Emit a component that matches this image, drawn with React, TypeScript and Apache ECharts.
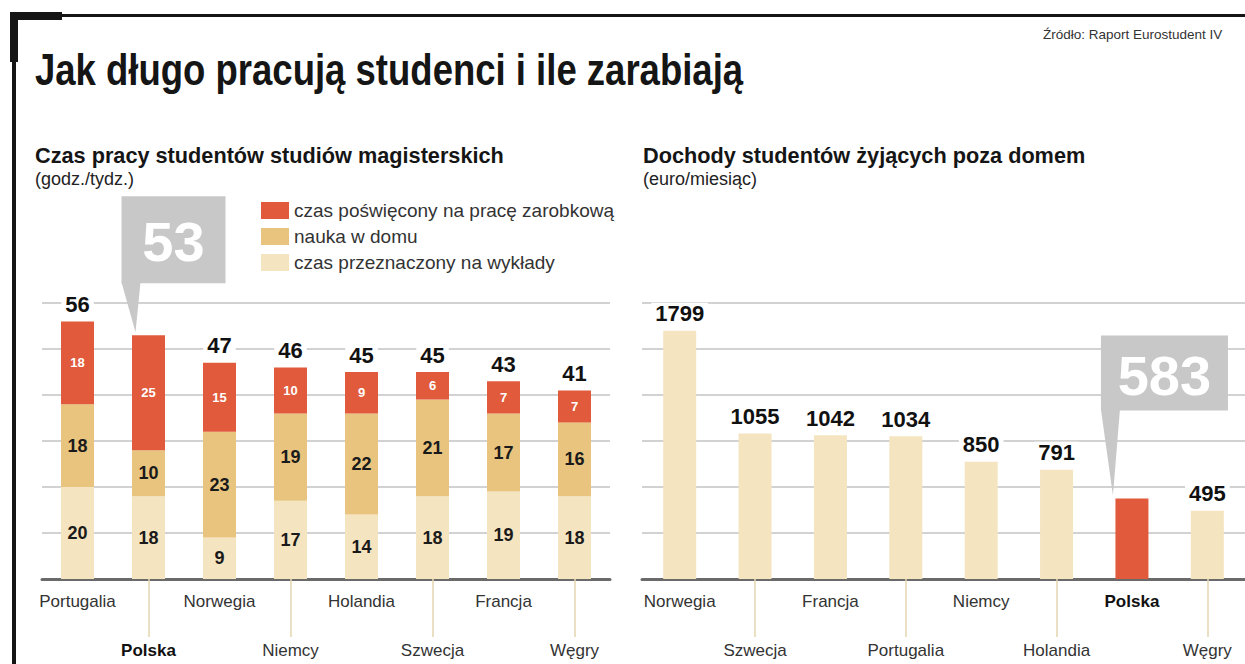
import React, { useEffect, useRef } from 'react';
import * as echarts from 'echarts';

const leftCategories = ['Portugalia', 'Polska', 'Norwegia', 'Niemcy', 'Holandia', 'Szwecja', 'Francja', 'Węgry'];
const lectures = [20, 18, 9, 17, 14, 18, 19, 18];
const homeStudy = [18, 10, 23, 19, 22, 21, 17, 16];
const paidWork = [18, 25, 15, 10, 9, 6, 7, 7];
const totals = [56, 53, 47, 46, 45, 45, 43, 41];

const rightCategories = ['Norwegia', 'Szwecja', 'Francja', 'Portugalia', 'Niemcy', 'Holandia', 'Polska', 'Węgry'];
const incomes = [1799, 1055, 1042, 1034, 850, 791, 583, 495];

const leftMax = 60;
const leftInterval = 10;
const rightMax = 2000;
const rightInterval = 2000 / 6;

const highlight = 'Polska';

const seriesNames = ['czas poświęcony na pracę zarobkową', 'nauka w domu', 'czas przeznaczony na wykłady'];

const C_RED = '#e05a3b';
const C_MID = '#e8c47e';
const C_LIGHT = '#f4e4c0';
const C_GRID = '#d2d2d2';
const C_CALLOUT = '#c8c8c8';
const SANS = '"Liberation Sans", Arial, sans-serif';

function catAxes(gridIndex: number, data: string[]) {
  const labelBase = {
    fontSize: 17,
    fontFamily: SANS,
    color: '#333',
    formatter: (v: string) => (v === highlight ? `{b|${v}}` : v),
    rich: { b: { fontSize: 17, fontFamily: SANS, fontWeight: 'bold', color: '#111' } },
  };
  return [
    {
      type: 'category',
      gridIndex,
      data,
      position: 'bottom',
      axisLine: { show: true, lineStyle: { color: '#6a6a6a', width: 3 } },
      axisTick: { show: false },
      axisLabel: { ...labelBase, interval: (i: number) => i % 2 === 0, margin: 14 },
    },
    {
      type: 'category',
      gridIndex,
      data,
      position: 'bottom',
      axisLine: { show: false },
      axisTick: {
        show: true,
        alignWithLabel: true,
        interval: (i: number) => i % 2 === 1,
        length: 58,
        lineStyle: { color: '#e6d6b0', width: 1.5 },
      },
      axisLabel: { ...labelBase, interval: (i: number) => i % 2 === 1, margin: 63 },
    },
  ];
}

function valAxis(gridIndex: number, max: number, interval: number) {
  return {
    type: 'value',
    gridIndex,
    min: 0,
    max,
    interval,
    axisLabel: { show: false },
    axisLine: { show: false },
    axisTick: { show: false },
    splitLine: { show: true, lineStyle: { color: C_GRID, width: 2 } },
  };
}

export default function App() {
  const ref = useRef<HTMLDivElement>(null);

  useEffect(() => {
    if (!ref.current) return;
    const chart = echarts.init(ref.current, undefined, { renderer: 'svg' });

    const segLabel = {
      show: true,
      position: 'inside',
      fontSize: 18,
      fontWeight: 'bold',
      fontFamily: SANS,
      color: '#1a1a1a',
    };

    const topLabel = {
      show: true,
      position: 'top',
      distance: 6,
      fontSize: 22,
      fontWeight: 'bold',
      fontFamily: SANS,
      color: '#111',
      backgroundColor: '#ffffff',
      padding: [0, 4],
    };

    const option: any = {
      animation: false,
      backgroundColor: '#ffffff',
      grid: [
        { left: 42, top: 303, width: 568, height: 276 },
        { left: 642, top: 303, width: 608, height: 276 },
      ],
      legend: {
        data: seriesNames,
        orient: 'vertical',
        left: 256,
        top: 196,
        itemWidth: 28,
        itemHeight: 17,
        itemGap: 7,
        icon: 'rect',
        selectedMode: false,
        textStyle: { fontSize: 19, fontFamily: SANS, color: '#333' },
      },
      xAxis: [...catAxes(0, leftCategories), ...catAxes(1, rightCategories)],
      yAxis: [valAxis(0, leftMax, leftInterval), valAxis(1, rightMax, rightInterval)],
      series: [
        {
          name: seriesNames[2],
          type: 'bar',
          stack: 'hours',
          xAxisIndex: 0,
          yAxisIndex: 0,
          barWidth: 33,
          itemStyle: { color: C_LIGHT },
          label: segLabel,
          data: lectures,
        },
        {
          name: seriesNames[1],
          type: 'bar',
          stack: 'hours',
          xAxisIndex: 0,
          yAxisIndex: 0,
          barWidth: 33,
          itemStyle: { color: C_MID },
          label: segLabel,
          data: homeStudy,
        },
        {
          name: seriesNames[0],
          type: 'bar',
          stack: 'hours',
          xAxisIndex: 0,
          yAxisIndex: 0,
          barWidth: 33,
          itemStyle: { color: C_RED },
          label: { ...segLabel, fontSize: 13, color: '#ffffff' },
          data: paidWork,
        },
        {
          name: 'total',
          type: 'scatter',
          xAxisIndex: 0,
          yAxisIndex: 0,
          symbolSize: 0,
          silent: true,
          itemStyle: { opacity: 1 },
          label: topLabel,
          data: totals.map((t, i) => ({
            value: t,
            label: { show: leftCategories[i] !== highlight },
          })),
        },
        {
          name: 'income',
          type: 'bar',
          xAxisIndex: 2,
          yAxisIndex: 1,
          barWidth: 33,
          label: topLabel,
          data: incomes.map((v, i) => ({
            value: v,
            itemStyle: { color: rightCategories[i] === highlight ? C_RED : C_LIGHT },
            label: { show: rightCategories[i] !== highlight },
          })),
        },
      ],
    };

    chart.setOption(option);

    const li = leftCategories.indexOf(highlight);
    const ri = rightCategories.indexOf(highlight);
    const lp = chart.convertToPixel({ xAxisIndex: 0, yAxisIndex: 0 }, [li, totals[li]]) as number[];
    const rp = chart.convertToPixel({ xAxisIndex: 2, yAxisIndex: 1 }, [ri, incomes[ri]]) as number[];

    const callout = (cx: number, top: number, dxLeft: number, w: number, gapAbove: number, h: number, tipDx: number, text: string) => {
      const bx = cx + dxLeft;
      const bb = top - gapAbove;
      return [
        {
          type: 'polygon',
          shape: { points: [[bx, bb - 1], [bx + 19, bb - 1], [cx + tipDx, top - 3]] },
          style: { fill: C_CALLOUT },
        },
        {
          type: 'rect',
          shape: { x: bx, y: bb - h, width: w, height: h },
          style: { fill: C_CALLOUT },
        },
        {
          type: 'text',
          x: bx + w / 2,
          y: bb - h / 2 + 2,
          style: {
            text,
            fill: '#ffffff',
            font: `bold 56px ${SANS}`,
            align: 'center',
            verticalAlign: 'middle',
          },
        },
      ];
    };

    const graphics: any[] = [
      { type: 'rect', shape: { x: 10, y: 14, width: 1235, height: 3 }, style: { fill: '#151515' } },
      { type: 'rect', shape: { x: 10, y: 12, width: 52, height: 8 }, style: { fill: '#151515' } },
      { type: 'rect', shape: { x: 10, y: 12, width: 8, height: 50 }, style: { fill: '#151515' } },
      { type: 'rect', shape: { x: 12, y: 12, width: 4, height: 652 }, style: { fill: '#151515' } },
      {
        type: 'text',
        x: 35,
        y: 70,
        scaleX: 0.83,
        style: {
          text: 'Jak długo pracują studenci i ile zarabiają',
          fill: '#151515',
          font: `bold 44px ${SANS}`,
          verticalAlign: 'middle',
        },
      },
      {
        type: 'text',
        x: 1043,
        y: 34,
        style: { text: 'Źródło: Raport Eurostudent IV', fill: '#333', font: `13.5px ${SANS}`, verticalAlign: 'middle' },
      },
      {
        type: 'text',
        x: 35,
        y: 155,
        style: { text: 'Czas pracy studentów studiów magisterskich', fill: '#151515', font: `bold 21.7px ${SANS}`, verticalAlign: 'middle' },
      },
      {
        type: 'text',
        x: 35,
        y: 179,
        style: { text: '(godz./tydz.)', fill: '#222', font: `18px ${SANS}`, verticalAlign: 'middle' },
      },
      {
        type: 'text',
        x: 643,
        y: 155,
        style: { text: 'Dochody studentów żyjących poza domem', fill: '#151515', font: `bold 21.7px ${SANS}`, verticalAlign: 'middle' },
      },
      {
        type: 'text',
        x: 643,
        y: 179,
        style: { text: '(euro/miesiąc)', fill: '#222', font: `18px ${SANS}`, verticalAlign: 'middle' },
      },
      ...callout(lp[0], lp[1], -27, 104, 52, 87, -13, String(totals[li])),
      ...callout(rp[0], rp[1], -31, 127, 88, 75, -19, String(incomes[ri])),
    ];

    chart.setOption({ graphic: graphics });

    return () => chart.dispose();
  }, []);

  return <div ref={ref} style={{ position: 'absolute', left: 0, top: 0, width: 1245, height: 664 }} />;
}
